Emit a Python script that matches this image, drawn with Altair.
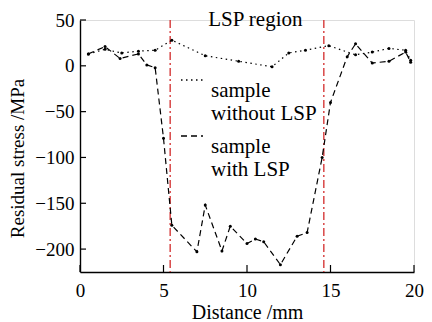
import altair as alt
import pandas as pd

# sample without LSP
without_x = [0.5, 1.5, 2.5, 3.5, 4.5, 5.5, 7.5, 9.5, 11.5, 12.5, 13.5, 14.9, 16.5, 17.5, 18.5, 19.5, 19.8]
without_y = [13, 18, 14, 16, 17, 28, 11, 5, -1, 14, 17, 22, 12, 15, 19, 17, 6]

# sample with LSP
with_x = [0.5, 1.5, 2.4, 3.5, 4.0, 4.5, 5.0, 5.5, 7.0, 7.5, 8.5, 9.0, 10.0, 10.5, 11.0, 12.0,
          13.0, 13.6, 14.5, 15.0, 16.0, 16.5, 17.5, 18.5, 19.5, 19.8]
with_y = [13, 21, 8, 13, 1, -2, -79, -174, -203, -152, -202, -175, -194, -189, -192, -217,
          -186, -182, -100, -40, 10, 24, 3, 5, 15, 4]

region_x = [5.4, 14.6]
region_label = ["LSP region"]
region_label_x = [10.5]
region_label_y = [43]

x_ticks = [0, 5, 10, 15, 20]
y_ticks = [50, 0, -50, -100, -150, -200]

FONT = "Liberation Serif"
W, H = 334, 252

df = pd.concat([
    pd.DataFrame({"d": without_x, "s": without_y, "series": "without"}),
    pd.DataFrame({"d": with_x, "s": with_y, "series": "with"}),
])

xs = alt.Scale(domain=[0, 20], nice=False)
ys = alt.Scale(domain=[-225, 50], nice=False)

xax = alt.Axis(values=x_ticks, tickSize=0, labelPadding=9, labelFontSize=19, titleFontSize=20,
               labelFont=FONT, titleFont=FONT, grid=False, domainColor="black", domainWidth=1.4,
               labelColor="black", titleColor="black", titleFontWeight="normal", titlePadding=2,
               labelFlush=False)
yax = alt.Axis(values=y_ticks, tickSize=0, labelPadding=6, labelFontSize=19, titleFontSize=19,
               labelFont=FONT, titleFont=FONT, grid=False, domainColor="black", domainWidth=1.4,
               labelColor="black", titleColor="black", titleFontWeight="normal",
               titleX=-53, titleY=138, titleAlign="center", labelFlush=False)

lines = alt.Chart(df).mark_line(color="black", strokeWidth=1.2).encode(
    x=alt.X("d:Q", scale=xs, axis=xax, title="Distance /mm"),
    y=alt.Y("s:Q", scale=ys, axis=yax, title="Residual stress /MPa"),
    strokeDash=alt.StrokeDash(
        "series:N",
        scale=alt.Scale(domain=["without", "with"], range=[[1.5, 3.5], [6, 4]]),
        legend=alt.Legend(
            title=None, orient="none", legendX=100, legendY=48, symbolType="stroke",
            symbolStrokeWidth=1.3, symbolSize=484, symbolStrokeColor="black",
            labelFont=FONT, labelFontSize=21, labelColor="black", labelOffset=7,
            labelExpr="datum.value == 'without' ? ['sample', 'without LSP'] : ['sample', 'with LSP']",
            labelBaseline="top", labelLimit=300, rowPadding=-14, padding=0,
        ),
    ),
    detail="series:N",
)

points = alt.Chart(df).mark_circle(color="black", size=9, opacity=1).encode(
    x=alt.X("d:Q", scale=xs), y=alt.Y("s:Q", scale=ys),
)

rules = alt.Chart(pd.DataFrame({"x": region_x})).mark_rule(
    color="#d63a3a", strokeWidth=1.4, strokeDash=[8, 3, 2, 3]
).encode(x=alt.X("x:Q", scale=xs))

label = alt.Chart(pd.DataFrame({"x": region_label_x, "y": region_label_y, "t": region_label})).mark_text(
    font=FONT, fontSize=21, color="black", baseline="alphabetic", align="center"
).encode(x=alt.X("x:Q", scale=xs), y=alt.Y("y:Q", scale=ys), text="t:N")

yt = alt.Chart(pd.DataFrame({"v": y_ticks})).mark_rule(color="black", strokeWidth=1.2).encode(
    y=alt.Y("v:Q", scale=ys), x=alt.value(0), x2=alt.value(6)
)
xt = alt.Chart(pd.DataFrame({"v": x_ticks})).mark_rule(color="black", strokeWidth=1.2).encode(
    x=alt.X("v:Q", scale=xs), y=alt.value(H), y2=alt.value(H - 7)
)

chart = alt.layer(rules, lines, points, label, yt, xt).properties(
    width=W, height=H,
    autosize=alt.AutoSizeParams(type="none"),
    padding={"left": 72, "top": 12, "right": 10, "bottom": 50},
).configure_view(stroke=None).configure(background="white")

chart.save("out.html", embed_options={"renderer": "svg", "actions": False})
